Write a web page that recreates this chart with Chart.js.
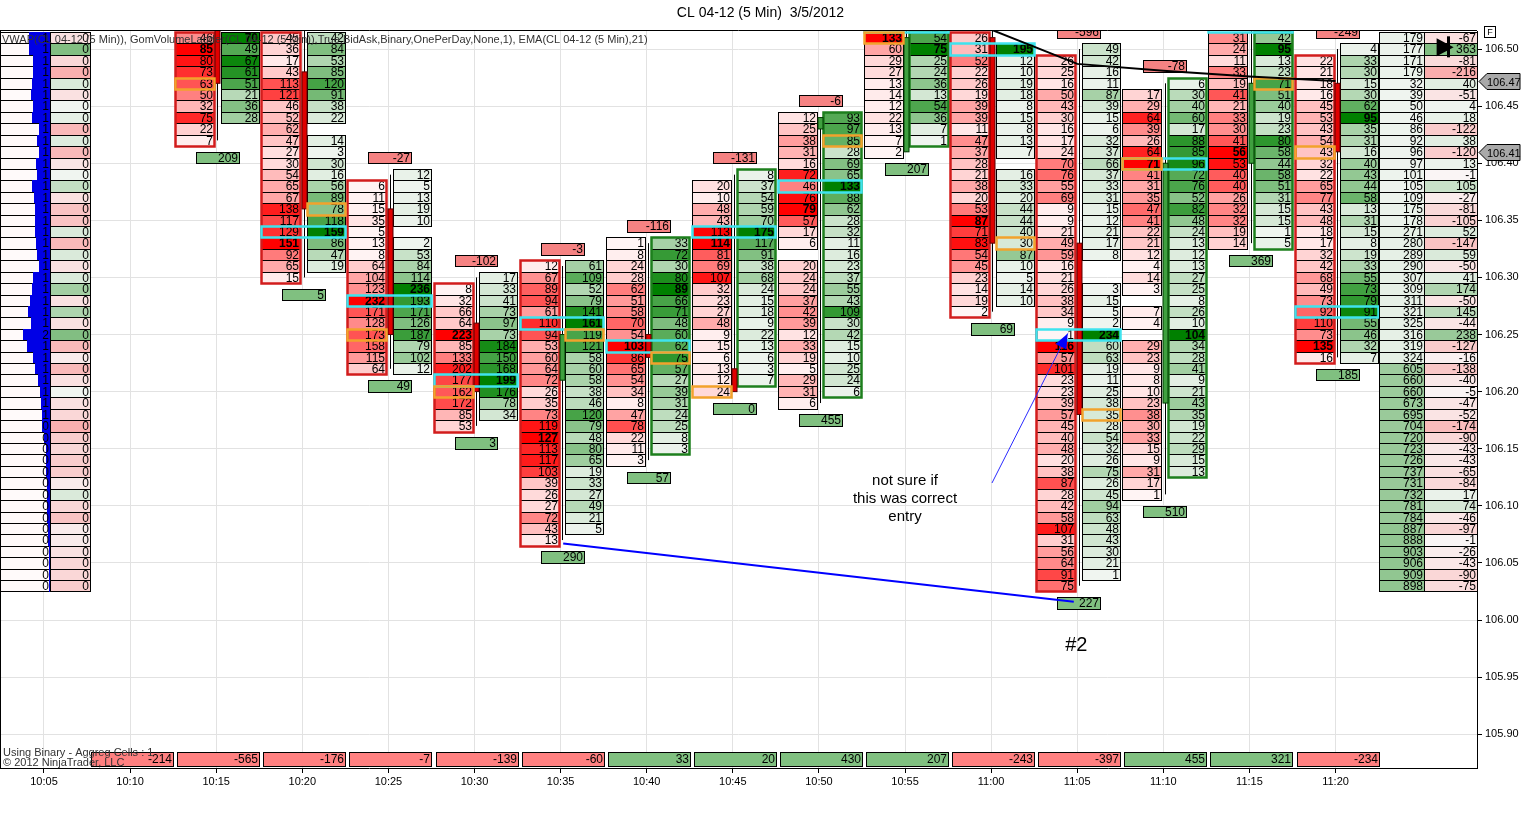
<!DOCTYPE html>
<html>
<head>
<meta charset="utf-8">
<title>CL 04-12 (5 Min) 3/5/2012</title>
<script src="https://cdn.jsdelivr.net/npm/chart.js@4.4.1/dist/chart.umd.min.js"></script>
<style>
  html, body { margin: 0; padding: 0; background: #fff; }
  canvas { display: block; }
</style>
</head>
<body>
<canvas id="footprint" width="1521" height="813"></canvas>
<script>
// ---- data ----
const timeLabels = ['10:05', '10:10', '10:15', '10:20', '10:25', '10:30', '10:35', '10:40',
                    '10:45', '10:50', '10:55', '11:00', '11:05', '11:10', '11:15', '11:20'];
const priceTicks = [105.90, 105.95, 106.00, 106.05, 106.10, 106.15, 106.20,
                    106.25, 106.30, 106.35, 106.40, 106.45, 106.50];

// bid (left, red) and ask (right, green) ladders, one row per 0.01 going down from the top price
const bidTop = [null, null, 106.51, 106.51, 106.38, 106.29, 106.31, 106.33, 106.38, 106.44, 106.51, 106.51, 106.49, 106.46, 106.51, 106.49];
const askTop = [null, null, 106.51, 106.51, 106.39, 106.30, 106.31, 106.33, 106.39, 106.44, 106.51, 106.50, 106.50, 106.47, 106.51, 106.50];
const bidVol = [
  [], [],
  [46, 85, 80, 73, 63, 50, 32, 75, 22, 7],
  [45, 36, 17, 43, 113, 121, 46, 52, 62, 47, 27, 30, 54, 65, 67, 138, 117, 129, 151, 92, 65, 15],
  [6, 11, 15, 35, 5, 13, 8, 64, 104, 123, 232, 171, 128, 173, 158, 115, 64],
  [8, 32, 66, 64, 223, 85, 133, 202, 177, 162, 172, 85, 53],
  [12, 67, 89, 94, 61, 110, 94, 53, 60, 64, 72, 26, 35, 73, 119, 127, 113, 117, 103, 39, 26, 27, 72, 43, 13],
  [1, 8, 24, 28, 62, 51, 58, 70, 54, 103, 86, 65, 54, 34, 8, 47, 78, 22, 11, 3],
  [20, 10, 48, 43, 113, 114, 81, 69, 107, 32, 23, 27, 48, 9, 15, 6, 13, 12, 24],
  [12, 25, 38, 31, 16, 72, 46, 76, 79, 57, 17, 6, null, 20, 24, 24, 37, 42, 39, 12, 33, 19, 5, 29, 31, 6],
  [133, 60, 29, 27, 13, 14, 12, 22, 13, 7, 2],
  [26, 31, 52, 22, 26, 19, 39, 39, 11, 47, 37, 28, 21, 38, 20, 53, 87, 71, 83, 54, 45, 23, 14, 19, 2],
  [26, 25, 16, 50, 43, 30, 16, 17, 24, 70, 76, 55, 69, 9, 9, 21, 49, 59, 16, 21, 26, 38, 34, 9, 1,
   116, 57, 101, 23, 23, 39, 57, 45, 40, 48, 20, 38, 87, 28, 42, 58, 107, 31, 56, 64, 91, 75],
  [17, 29, 64, 39, 26, 64, 71, 41, 31, 35, 47, 41, 22, 21, 12, 4, 14, 3, null, 7, 4, null,
   29, 23, 9, 8, 10, 23, 38, 30, 33, 15, 9, 31, 17, 1],
  [31, 24, 11, 33, 19, 41, 21, 33, 30, 41, 56, 53, 40, 40, 26, 32, 32, 19, 14],
  [22, 21, 18, 16, 45, 53, 43, 54, 43, 32, 22, 65, 77, 43, 48, 18, 17, 32, 42, 68, 49, 73, 92, 110, 73, 135, 16]
];
const askVol = [
  [], [],
  [70, 49, 67, 61, 51, 21, 36, 28],
  [42, 84, 53, 85, 120, 91, 38, 22, null, 14, 3, 30, 16, 56, 89, 78, 118, 159, 86, 47, 19],
  [12, 5, 13, 19, 10, null, 2, 53, 84, 114, 236, 193, 171, 126, 187, 79, 102, 12],
  [17, 33, 41, 73, 97, 73, 184, 150, 168, 199, 176, 78, 34],
  [61, 109, 52, 79, 141, 161, 119, 121, 58, 60, 58, 38, 46, 120, 79, 48, 80, 65, 19, 33, 27, 49, 21, 5],
  [33, 72, 30, 80, 89, 66, 71, 48, 60, 62, 75, 57, 27, 39, 31, 24, 25, 8, 3],
  [8, 37, 54, 59, 70, 175, 117, 91, 38, 68, 24, 15, 18, 9, 22, 13, 6, 3, 7],
  [93, 97, 85, 28, 69, 65, 133, 88, 62, 28, 32, 11, 16, 23, 37, 55, 43, 109, 30, 42, 15, 10, 25, 24, 6],
  [54, 75, 25, 24, 36, 13, 54, 36, 7, 1],
  [195, 12, 10, 19, 18, 8, 15, 8, 13, 7, null, 16, 33, 20, 44, 44, 40, 30, 87, 10, 5, 14, 10],
  [49, 42, 16, 11, 87, 39, 15, 6, 32, 37, 66, 37, 33, 31, 15, 12, 21, 17, 8, null, null, 3, 15, 5, 2,
   234, 60, 63, 19, 11, 25, 38, 35, 28, 54, 32, 26, 75, 26, 45, 94, 63, 48, 43, 30, 21, 1],
  [6, 30, 40, 60, 17, 88, 85, 96, 72, 76, 52, 82, 48, 24, 13, 12, 13, 27, 25, 8, 26, 10,
   104, 34, 28, 41, 9, 21, 43, 35, 19, 22, 29, 15, 13],
  [42, 95, 13, 23, 71, 51, 40, 19, 23, 80, 58, 44, 58, 51, 31, 15, 15, 1, 5],
  [4, 33, 30, 15, 30, 62, 95, 35, 31, 16, 40, 43, 44, 58, 13, 31, 15, 8, 19, 33, 55, 73, 79, 91, 55, 46, 32, 7]
];

const opens  = [null, null, 106.54, 106.48, 106.36, 106.26, 106.21, 106.25, 106.22, 106.43, 106.41, 106.51, 106.33, 106.19, 106.40, 106.47];
const highs  = [null, null, 106.56, 106.53, 106.39, 106.30, 106.31, 106.33, 106.39, 106.44, 106.53, 106.52, 106.50, 106.47, 106.53, 106.50];
const lows   = [null, null, 106.42, 106.30, 106.22, 106.17, 106.07, 106.14, 106.20, 106.19, 106.41, 106.27, 106.03, 106.11, 106.33, 106.23];
const closes = [null, null, 106.47, 106.36, 106.25, 106.20, 106.25, 106.23, 106.20, 106.44, 106.51, 106.33, 106.18, 106.40, 106.47, 106.41];

const minDelta = [null, null, null, null, -27, -102, -3, -116, -131, -6, null, null, -596, -78, null, -249];
const maxDelta = [null, null, 209, 5, 49, 3, 290, 57, 0, 455, 207, 69, 227, 510, 369, 185];
const barDelta = [null, -214, -565, -176, -7, -139, -60, 33, 20, 430, 207, -243, -397, 455, 321, -234];

const pocCells = [[2, 'bid', 106.47], [3, 'ask', 106.36], [4, 'bid', 106.25], [5, 'bid', 106.20],
                  [6, 'ask', 106.25], [7, 'ask', 106.23], [8, 'bid', 106.20], [9, 'ask', 106.42],
                  [10, 'bid', 106.51], [11, 'ask', 106.33], [12, 'ask', 106.18], [13, 'bid', 106.40],
                  [14, 'ask', 106.47], [15, 'bid', 106.41]];
const cyanRows = [[3, 106.34], [4, 106.28], [5, 106.21], [6, 106.26], [7, 106.24], [8, 106.34], [9, 106.38],
                  [10, 106.52], [11, 106.50], [12, 106.25], [13, 106.40], [14, 106.52], [15, 106.27]];

// opening profile at 10:05
const profileTop = 106.51;
const profileCount = [1, 1, 1, 1, 1, 1, 1, 1, 1, 1, 1, 1, 1, 1, 1, 1, 1, 1, 1, 1, 1, 1, 1, 1, 1,
                      1, 2, 1, 1, 1, 1, 1, 1, 1, 0, 0, 0, 0, 0, 0, 0, 0, 0, 0, 0, 0, 0, 0, 0];
const profileVolume = [21, 21, 17, 17, 18, 19, 17, 18, 11, 13, 11, 14, 13, 18, 16, 15, 15, 15, 14, 13,
                       11, 17, 18, 20, 22, 19, 27, 23, 17, 15, 12, 10, 9, 8, 8, 6, 4, 4, 4, 3,
                       3, 3, 3, 2, 2, 1, 1, 1, 1];
const profileDelta = [0, 0, 0, 0, 0, 0, 0, 0, 0, 0, 0, 0, 0, 0, 0, 0, 0, 0, 0, 0, 0, 0, 0, 0, 0,
                      0, 0, 0, 0, 0, 0, 0, 0, 0, 0, 0, 0, 0, 0, 0, 0, 0, 0, 0, 0, 0, 0, 0, 0];
const profileTone = [-0.1, 0.5, -0.15, -0.35, 0.1, -0.1, 0, 0.05, -0.3, 0.08, -0.3, -0.08, 0, 0.2, -0.1,
                     -0.25, -0.25, 0.1, -0.3, 0.1, -0.1, 0.1, 0.35, -0.1, 0.3, -0.1, 0.5, -0.3, -0.05, -0.3,
                     -0.1, 0, -0.1, -0.15, -0.35, -0.2, -0.15, -0.2, -0.2, -0.05, 0.1, -0.15, -0.25, -0.05,
                     -0.05, -0.1, -0.15, -0.15, -0.2];

// session totals ladder (drawn in the 11:25 slot)
const sessionTop = 106.51;
const sessionVol = [179, 177, 171, 179, 32, 39, 50, 46, 86, 92, 96, 97, 101, 105, 109, 175, 178, 271, 280, 289,
                    290, 307, 309, 311, 321, 325, 316, 319, 324, 605, 660, 660, 673, 695, 704, 720, 723, 726,
                    737, 731, 732, 781, 784, 887, 888, 903, 906, 909, 898];
const sessionDelta = [-67, 363, -81, -216, 40, -51, 4, 18, -122, 38, -120, 13, -1, 105, -27, -81, -105, 52,
                      -147, 59, -50, 41, 174, -50, 145, -44, 238, -127, -16, -138, -40, -5, -47, -52, -174,
                      -90, -43, -43, -65, -84, 17, 74, -46, -97, -1, -26, -43, -90, -75];

// EMA(21) and the hand drawn lines
const emaX = [10, 11, 12, 13, 14, 15];
const emaValues = [106.545, 106.517, 106.487, 106.481, 106.476, 106.472];
const trendLine = [{ x: 6.03, y: 106.067 }, { x: 11.96, y: 106.016 }];
const noteArrow = [{ x: 11.01, y: 106.120 }, { x: 11.89, y: 106.251 }];
const noteText = ['not sure if', 'this was correct', 'entry'];
const noteAt = { x: 10.0, y: 106.122 };
const tagAt = { x: 11.99, y: 105.978 };

// ---- drawing helpers ----
const FONT = '"Liberation Sans", Arial, sans-serif';
const TICK = 0.01;
const SESSION_SLOT = 16;

function redShade(t) {
  const k = Math.pow(Math.max(0, Math.min(1, t)), 1.4);
  const c = Math.round(245 * (1 - k));
  return `rgb(255,${c},${c})`;
}
function greenShade(t) {
  const k = Math.pow(Math.max(0, Math.min(1, t)), 1.2);
  return `rgb(${Math.round(240 - 240 * k)},${Math.round(245 - 117 * k)},${Math.round(240 - 240 * k)})`;
}
function toneShade(t) {
  if (t < 0) { const c = Math.round(245 - 200 * -t); return `rgb(250,${c},${c})`; }
  return `rgb(${Math.round(240 - 220 * t)},${Math.round(245 - 110 * t)},${Math.round(240 - 220 * t)})`;
}
function volShade(t) {
  const k = t < 0.5 ? t * 0.3 : 0.75 + (t - 0.5) * 0.4;
  return `rgb(${Math.round(240 - 100 * k)},${Math.round(245 - 50 * k)},${Math.round(240 - 100 * k)})`;
}
function deltaShade(v) {
  const k = Math.min(1, Math.abs(v) / 300);
  if (v < 0) { const c = Math.round(245 - 100 * k); return `rgb(250,${c},${c})`; }
  return `rgb(${Math.round(240 - 110 * k)},${Math.round(245 - 55 * k)},${Math.round(240 - 110 * k)})`;
}

function drawCell(ctx, x0, x1, y0, y1, fill, label, bold) {
  const X0 = Math.round(x0), X1 = Math.round(x1), Y0 = Math.round(y0), Y1 = Math.round(y1);
  if (fill) {
    ctx.fillStyle = fill;
    ctx.fillRect(X0, Y0, X1 - X0, Y1 - Y0);
  }
  ctx.strokeStyle = '#000';
  ctx.lineWidth = 1;
  ctx.strokeRect(X0 + 0.5, Y0 + 0.5, X1 - X0, Y1 - Y0);
  if (label !== null && label !== undefined) {
    ctx.fillStyle = '#000';
    ctx.font = (bold ? 'bold ' : '') + '12px ' + FONT;
    ctx.textAlign = 'right';
    ctx.textBaseline = 'middle';
    ctx.fillText(String(label), X1 - 1, (Y0 + Y1) / 2 + 1);
  }
}

function rowEdges(ys, p) {
  return [ys.getPixelForValue(p + TICK / 2), ys.getPixelForValue(p - TICK / 2)];
}

function outline(ctx, x0, x1, y0, y1, color, width) {
  ctx.strokeStyle = color;
  ctx.lineWidth = width;
  ctx.strokeRect(Math.round(x0) + 0.5, Math.round(y0) + 0.5, Math.round(x1) - Math.round(x0), Math.round(y1) - Math.round(y0));
}

// offsets inside one 5 minute slot, in bar units
const BID_L = -0.476, BID_R = -0.023, ASK_L = 0.052, ASK_R = 0.494, CANDLE = 0.015;
const BOX_L = -0.232, BOX_R = 0.267, ROW_L = -0.453, ROW_R = 0.5;

const footprintPlugin = {
  id: 'footprint',
  beforeDatasetsDraw(chart) {
    const { ctx, chartArea: a } = chart;
    const xs = chart.scales.x, ys = chart.scales.y;
    ctx.save();
    ctx.beginPath();
    ctx.rect(a.left, a.top, a.right - a.left, a.bottom - a.top);
    ctx.clip();

    // opening profile
    const px0 = xs.getPixelForValue(-0.511), px1 = xs.getPixelForValue(0.07), px2 = xs.getPixelForValue(0.535);
    const unit = xs.getPixelForValue(1) - xs.getPixelForValue(0);
    profileCount.forEach((n, k) => {
      const p = profileTop - k * TICK;
      const [y0, y1] = rowEdges(ys, p);
      drawCell(ctx, px0, px1, y0, y1, '#fffafa', null, false);
      ctx.fillStyle = '#0000e6';
      const w = profileVolume[k] * unit / 86;
      ctx.fillRect(Math.round(px1 - w), Math.round(y0), Math.round(w), Math.round(y1) - Math.round(y0) + 1);
      ctx.fillStyle = '#000';
      ctx.font = '12px ' + FONT;
      ctx.textAlign = 'right';
      ctx.textBaseline = 'middle';
      ctx.fillText(String(n), Math.round(px1) - 1, (Math.round(y0) + Math.round(y1)) / 2 + 1);
      drawCell(ctx, px1, px2, y0, y1, toneShade(profileTone[k]), profileDelta[k], false);
    });

    // bar ladders
    for (let i = 0; i < bidVol.length; i++) {
      if (!bidVol[i].length) continue;
      const bx0 = xs.getPixelForValue(i + BID_L), bx1 = xs.getPixelForValue(i + BID_R);
      const ax0 = xs.getPixelForValue(i + ASK_L), ax1 = xs.getPixelForValue(i + ASK_R);
      const bMax = Math.max(...bidVol[i].filter(v => v !== null));
      const aMax = Math.max(...askVol[i].filter(v => v !== null));
      bidVol[i].forEach((v, k) => {
        if (v === null) return;
        const [y0, y1] = rowEdges(ys, bidTop[i] - k * TICK);
        drawCell(ctx, bx0, bx1, y0, y1, redShade(v / bMax), v, v === bMax);
      });
      askVol[i].forEach((v, k) => {
        if (v === null) return;
        const [y0, y1] = rowEdges(ys, askTop[i] - k * TICK);
        drawCell(ctx, ax0, ax1, y0, y1, greenShade(v / aMax), v, v === aMax);
      });

      // side with the bar's delta gets a coloured frame
      if (barDelta[i] < 0) {
        const yt = ys.getPixelForValue(bidTop[i] + TICK / 2);
        const yb = ys.getPixelForValue(bidTop[i] - (bidVol[i].length - 1) * TICK - TICK / 2);
        outline(ctx, bx0, bx1, yt, yb, '#d21c1c', 2.5);
      } else {
        const yt = ys.getPixelForValue(askTop[i] + TICK / 2);
        const yb = ys.getPixelForValue(askTop[i] - (askVol[i].length - 1) * TICK - TICK / 2);
        outline(ctx, ax0, ax1, yt, yb, '#1d7f1d', 2.5);
      }

      // candle
      const cx = Math.round(xs.getPixelForValue(i + CANDLE)) + 0.5;
      ctx.strokeStyle = '#000';
      ctx.lineWidth = 1;
      ctx.beginPath();
      ctx.moveTo(cx, ys.getPixelForValue(highs[i]));
      ctx.lineTo(cx, ys.getPixelForValue(lows[i]));
      ctx.stroke();
      const bt = ys.getPixelForValue(Math.max(opens[i], closes[i]));
      const bb = ys.getPixelForValue(Math.min(opens[i], closes[i]));
      const up = closes[i] >= opens[i];
      ctx.fillStyle = up ? '#3fa03f' : '#e00000';
      ctx.fillRect(cx - 2.5, bt, 5, Math.max(1, bb - bt));
      ctx.strokeStyle = up ? '#003a00' : '#5a0000';
      ctx.strokeRect(cx - 2.5, bt, 5, Math.max(1, bb - bt));

      // min / max delta boxes
      ctx.font = '12px ' + FONT;
      if (minDelta[i] !== null) {
        const [y0, y1] = rowEdges(ys, highs[i] + 0.015);
        drawCell(ctx, xs.getPixelForValue(i + BOX_L), xs.getPixelForValue(i + BOX_R), y0, y1, '#f58282', minDelta[i], false);
      }
      if (maxDelta[i] !== null) {
        const [y0, y1] = rowEdges(ys, lows[i] - 0.015);
        drawCell(ctx, xs.getPixelForValue(i + BOX_L), xs.getPixelForValue(i + BOX_R), y0, y1, '#80c080', maxDelta[i], false);
      }
    }

    // highlighted rows and cells
    cyanRows.forEach(([i, p]) => {
      const [y0, y1] = rowEdges(ys, p);
      outline(ctx, xs.getPixelForValue(i + BID_L), xs.getPixelForValue(i + ASK_R), y0, y1, '#3fe3ee', 2.5);
    });
    pocCells.forEach(([i, side, p]) => {
      const [y0, y1] = rowEdges(ys, p);
      const x0 = xs.getPixelForValue(i + (side === 'bid' ? BID_L : ASK_L));
      const x1 = xs.getPixelForValue(i + (side === 'bid' ? BID_R : ASK_R));
      outline(ctx, x0, x1, y0, y1, '#f2a22c', 2.5);
    });

    // session ladder
    const vMax = Math.max(...sessionVol);
    const s0 = xs.getPixelForValue(SESSION_SLOT - 0.495), s1 = xs.getPixelForValue(SESSION_SLOT + 0.028);
    const s2 = xs.getPixelForValue(SESSION_SLOT + 0.644);
    sessionVol.forEach((v, k) => {
      const [y0, y1] = rowEdges(ys, sessionTop - k * TICK);
      drawCell(ctx, s0, s1, y0, y1, volShade(v / vMax), v, false);
      drawCell(ctx, s1, s2, y0, y1, deltaShade(sessionDelta[k]), sessionDelta[k], false);
    });

    ctx.restore();
  },
  afterDatasetsDraw(chart) {
    const { ctx, chartArea: a } = chart;
    const xs = chart.scales.x, ys = chart.scales.y;
    ctx.save();

    // arrow head on the note line
    const pts = chart.getDatasetMeta(2).data;
    const p0 = pts[0], p1 = pts[pts.length - 1];
    const ang = Math.atan2(p1.y - p0.y, p1.x - p0.x);
    ctx.fillStyle = '#0000ff';
    ctx.beginPath();
    ctx.moveTo(p1.x, p1.y);
    ctx.lineTo(p1.x - 15 * Math.cos(ang) + 6 * Math.sin(ang), p1.y - 15 * Math.sin(ang) - 6 * Math.cos(ang));
    ctx.lineTo(p1.x - 15 * Math.cos(ang) - 6 * Math.sin(ang), p1.y - 15 * Math.sin(ang) + 6 * Math.cos(ang));
    ctx.closePath();
    ctx.fill();

    // annotation text
    ctx.fillStyle = '#000';
    ctx.textAlign = 'center';
    ctx.textBaseline = 'middle';
    ctx.font = '15px ' + FONT;
    const nx = xs.getPixelForValue(noteAt.x), ny = ys.getPixelForValue(noteAt.y);
    noteText.forEach((t, k) => ctx.fillText(t, nx, ny + k * 18));
    ctx.font = '20px ' + FONT;
    ctx.fillText('#2', xs.getPixelForValue(tagAt.x), ys.getPixelForValue(tagAt.y));

    // per bar delta row along the bottom
    const rb = a.bottom - 2, rt = a.bottom - 16;
    barDelta.forEach((d, i) => {
      if (d === null) return;
      drawCell(ctx, xs.getPixelForValue(i + ROW_L), xs.getPixelForValue(i + ROW_R), rt, rb,
        d < 0 ? '#ff8080' : '#80c080', d, false);
    });

    // indicator caption and footer
    ctx.textAlign = 'left';
    ctx.font = '11px ' + FONT;
    ctx.fillStyle = '#333';
    ctx.fillText('VWAP(CL 04-12 (5 Min)), GomVolumeLadder(CL 04-12 (5 Min)),True,BidAsk,Binary,OnePerDay,None,1), EMA(CL 04-12 (5 Min),21)', 2, a.top + 9);
    ctx.fillText('Using Binary - Aggreg Cells : 1', 3, a.bottom - 15);
    ctx.fillText('\u00A9 2012 NinjaTrader, LLC', 3, a.bottom - 5);

    // last-bar marker
    const mx = xs.getPixelForValue(SESSION_SLOT), my = ys.getPixelForValue(106.5015);
    ctx.fillStyle = '#000';
    ctx.fillRect(Math.round(mx) + 25, my - 11, 3, 21);
    ctx.beginPath();
    ctx.moveTo(mx + 15, my - 9);
    ctx.lineTo(mx + 32, my);
    ctx.lineTo(mx + 15, my + 9);
    ctx.closePath();
    ctx.fill();

    // frame
    ctx.strokeStyle = '#000';
    ctx.lineWidth = 1;
    ctx.beginPath();
    ctx.moveTo(0, a.top - 0.5);
    ctx.lineTo(a.right, a.top - 0.5);
    ctx.moveTo(0.5, a.top);
    ctx.lineTo(0.5, a.bottom);
    ctx.stroke();

    // price markers on the axis
    const marker = (val) => {
      const y = Math.round(ys.getPixelForValue(val)) + 0.5;
      const x = a.right + 2;
      ctx.fillStyle = '#a9a9a9';
      ctx.strokeStyle = '#000';
      ctx.beginPath();
      ctx.moveTo(x, y);
      ctx.lineTo(x + 8, y - 8);
      ctx.lineTo(chart.width - 1, y - 8);
      ctx.lineTo(chart.width - 1, y + 8);
      ctx.lineTo(x + 8, y + 8);
      ctx.closePath();
      ctx.fill();
      ctx.stroke();
      ctx.fillStyle = '#000';
      ctx.font = '11px ' + FONT;
      ctx.textAlign = 'left';
      ctx.fillText(val.toFixed(2), x + 8, y + 1);
    };
    marker(emaValues[emaValues.length - 1]);
    marker(closes[closes.length - 1]);

    // "F" button and title
    ctx.strokeStyle = '#000';
    ctx.fillStyle = '#fff';
    ctx.fillRect(1484.5, 26.5, 11, 11);
    ctx.strokeRect(1484.5, 26.5, 11, 11);
    ctx.fillStyle = '#000';
    ctx.font = '9px ' + FONT;
    ctx.textAlign = 'center';
    ctx.fillText('F', 1490, 32.5);
    ctx.font = '14px ' + FONT;
    ctx.fillText('CL 04-12 (5 Min)  3/5/2012', chart.width / 2, 13);
    ctx.restore();
  }
};

const ctx = document.getElementById('footprint').getContext('2d');
new Chart(ctx, {
  type: 'line',
  data: {
    datasets: [
      {
        label: 'EMA(21)',
        data: emaX.map((x, i) => ({ x: x, y: emaValues[i] })),
        borderColor: '#000',
        borderWidth: 2,
        pointRadius: 0,
        tension: 0
      },
      {
        label: 'trend',
        data: trendLine,
        borderColor: '#0000ff',
        borderWidth: 2,
        pointRadius: 0
      },
      {
        label: 'note',
        data: noteArrow,
        borderColor: '#2a2aff',
        borderWidth: 1,
        pointRadius: 0
      }
    ]
  },
  options: {
    responsive: false,
    animation: false,
    devicePixelRatio: 1,
    layout: { padding: { top: 31, left: 0, right: 0, bottom: 0 } },
    plugins: { legend: { display: false }, tooltip: { enabled: false }, title: { display: false } },
    scales: {
      x: {
        type: 'linear',
        min: -0.511,
        max: 16.643,
        afterBuildTicks: scale => { scale.ticks = timeLabels.map((_, i) => ({ value: i })); },
        afterFit: scale => { scale.height = 45; },
        ticks: {
          autoSkip: false,
          maxRotation: 0,
          padding: 2,
          color: '#000',
          font: { family: FONT, size: 11 },
          callback: value => timeLabels[value] || ''
        },
        grid: { color: '#e2e2e2', tickColor: '#000', tickLength: 5 },
        border: { display: true, color: '#000' }
      },
      y: {
        type: 'linear',
        position: 'right',
        min: 105.8704,
        max: 106.5158,
        afterBuildTicks: scale => { scale.ticks = priceTicks.map(v => ({ value: v })); },
        afterFit: scale => { scale.width = 44; },
        ticks: {
          padding: 3,
          color: '#000',
          font: { family: FONT, size: 11 },
          callback: value => Number(value).toFixed(2)
        },
        grid: { color: '#e2e2e2', tickColor: '#000', tickLength: 5 },
        border: { display: true, color: '#000' }
      }
    }
  },
  plugins: [footprintPlugin]
});
</script>
</body>
</html>
